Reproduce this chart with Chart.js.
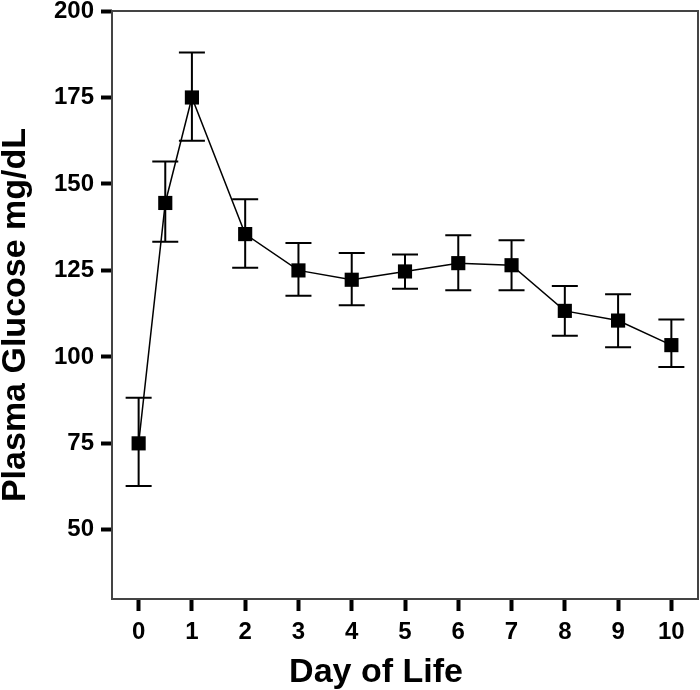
<!DOCTYPE html>
<html>
<head>
<meta charset="utf-8">
<script src="https://cdn.jsdelivr.net/npm/chart.js@4/dist/chart.umd.min.js"></script>
<style>
  html, body { margin: 0; padding: 0; background: #fff; overflow: hidden; }
  #wrap { width: 700px; height: 690px; }
  canvas { display: block; }
</style>
</head>
<body>
<div id="wrap"><canvas id="glucoseChart" width="700" height="690"></canvas></div>
<script>
// Plasma glucose by day of life (mean with error bars)
const days    = [0, 0.5, 1, 2, 3, 4, 5, 6, 7, 8, 9, 10];
const glucose = [75, 144.5, 175, 135.5, 125, 122.3, 124.7, 127.1, 126.5, 113.3, 110.5, 103.4];
const upper   = [88.2, 156.5, 188, 145.6, 132.9, 130, 129.6, 135.2, 133.7, 120.5, 118.1, 110.8];
const lower   = [62.7, 133.3, 162.5, 125.8, 117.7, 114.9, 119.7, 119.3, 119.3, 106.1, 102.8, 97.1];

const xTicks = [0, 1, 2, 3, 4, 5, 6, 7, 8, 9, 10];
const yTicks = [50, 75, 100, 125, 150, 175, 200];

const xTitle = 'Day of Life';
const yTitle = 'Plasma Glucose mg/dL';

const FONT = '"Liberation Sans", Arial, Helvetica, sans-serif';

// frame around the plot area
const framePlugin = {
    id: 'frame',
    beforeDatasetsDraw(chart) {
        const { ctx, chartArea: a } = chart;
        ctx.save();
        ctx.strokeStyle = '#444';
        ctx.lineWidth = 2;
        ctx.strokeRect(a.left, a.top, a.right - a.left, a.bottom - a.top);
        ctx.restore();
    }
};

// vertical error bars with caps
const errorBarPlugin = {
    id: 'errorBars',
    beforeDatasetsDraw(chart) {
        const { ctx, scales: { x, y } } = chart;
        ctx.save();
        ctx.strokeStyle = '#000';
        ctx.lineWidth = 2;
        days.forEach((d, i) => {
            const px = x.getPixelForValue(d);
            const top = y.getPixelForValue(upper[i]);
            const bot = y.getPixelForValue(lower[i]);
            ctx.beginPath();
            ctx.moveTo(px, top);
            ctx.lineTo(px, bot);
            ctx.moveTo(px - 13, top);
            ctx.lineTo(px + 13, top);
            ctx.moveTo(px - 13, bot);
            ctx.lineTo(px + 13, bot);
            ctx.stroke();
        });
        ctx.restore();
    }
};

// axis titles
const titlePlugin = {
    id: 'axisTitles',
    afterDraw(chart) {
        const { ctx } = chart;
        ctx.save();
        ctx.fillStyle = '#000';
        ctx.font = 'bold 34px ' + FONT;
        ctx.textAlign = 'center';
        ctx.textBaseline = 'alphabetic';
        ctx.fillText(xTitle, 376, 682);
        ctx.translate(25, 315);
        ctx.rotate(-Math.PI / 2);
        ctx.fillText(yTitle, 0, 0);
        ctx.restore();
    }
};

function noPad(scale) {
    scale.paddingTop = 0;
    scale.paddingBottom = 0;
    scale.paddingLeft = 0;
    scale.paddingRight = 0;
}

const ctx = document.getElementById('glucoseChart');
new Chart(ctx, {
    type: 'line',
    data: {
        datasets: [{
            data: days.map((d, i) => ({ x: d, y: glucose[i] })),
            borderColor: '#000',
            borderWidth: 1.5,
            tension: 0,
            pointStyle: 'rect',
            pointRadius: 10,
            pointHoverRadius: 10,
            pointBackgroundColor: '#000',
            pointBorderWidth: 0
        }]
    },
    options: {
        responsive: false,
        animation: false,
        layout: { autoPadding: false, padding: { top: 11, right: 2, left: 0, bottom: 0 } },
        plugins: {
            legend: { display: false },
            tooltip: { enabled: false }
        },
        scales: {
            x: {
                type: 'linear',
                min: -0.5,
                max: 10.5,
                afterBuildTicks: (scale) => { scale.ticks = xTicks.map(v => ({ value: v })); },
                afterFit: (scale) => { scale.height = 91; noPad(scale); },
                border: { display: false },
                grid: {
                    drawOnChartArea: false,
                    drawTicks: true,
                    tickLength: 12,
                    tickWidth: 4,
                    tickColor: '#000'
                },
                ticks: {
                    color: '#000',
                    padding: 7,
                    maxRotation: 0,
                    font: { family: FONT, size: 24, weight: 'bold' }
                }
            },
            y: {
                min: 30,
                max: 200,
                afterBuildTicks: (scale) => { scale.ticks = yTicks.map(v => ({ value: v })); },
                afterFit: (scale) => { scale.width = 112; noPad(scale); },
                border: { display: false },
                grid: {
                    drawOnChartArea: false,
                    drawTicks: true,
                    tickLength: 11,
                    tickWidth: 4,
                    tickColor: '#000'
                },
                ticks: {
                    color: '#000',
                    padding: 7,
                    font: { family: FONT, size: 24, weight: 'bold' }
                }
            }
        }
    },
    plugins: [framePlugin, errorBarPlugin, titlePlugin]
});
</script>
</body>
</html>
